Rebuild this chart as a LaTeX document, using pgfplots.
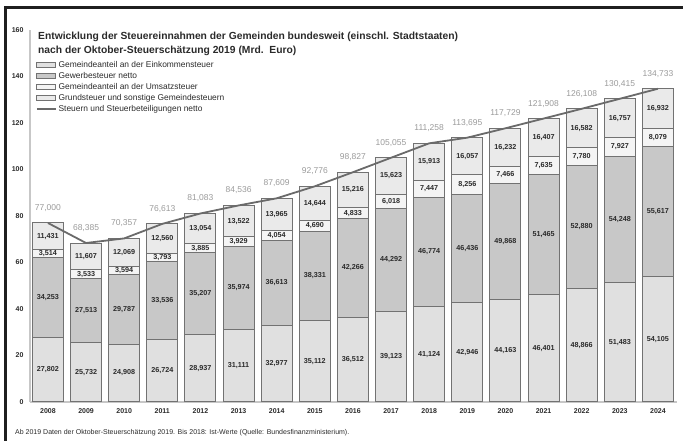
\documentclass[border=0pt]{standalone}
\usepackage{pgfplots}
\usepackage{pgfplotstable}
\pgfplotsset{compat=1.18}
\usepackage{fontspec}
\setmainfont{Liberation Sans}

\definecolor{cEst}{HTML}{E0E0E0}
\definecolor{cGew}{HTML}{C8C8C8}
\definecolor{cUst}{HTML}{F4F4F4}
\definecolor{cGrund}{HTML}{EAEAEA}
\definecolor{cEdge}{HTML}{727272}
\definecolor{cLine}{HTML}{6A6A6A}
\definecolor{cTotal}{HTML}{9A9A9A}
\definecolor{cText}{HTML}{2A2A2A}

\pgfkeys{/pgf/number format/assume math mode=true}

% Mrd. Euro, Gemeinden bundesweit
\pgfplotstableread{
x year est gew ust grund total
0  2008 27.802 34.253 3.514 11.431 77.000
1  2009 25.732 27.513 3.533 11.607 68.385
2  2010 24.908 29.787 3.594 12.069 70.357
3  2011 26.724 33.536 3.793 12.560 76.613
4  2012 28.937 35.207 3.885 13.054 81.083
5  2013 31.111 35.974 3.929 13.522 84.536
6  2014 32.977 36.613 4.054 13.965 87.609
7  2015 35.112 38.331 4.690 14.644 92.776
8  2016 36.512 42.266 4.833 15.216 98.827
9  2017 39.123 44.292 6.018 15.623 105.055
10 2018 41.124 46.774 7.447 15.913 111.258
11 2019 42.946 46.436 8.256 16.057 113.695
12 2020 44.163 49.868 7.466 16.232 117.729
13 2021 46.401 51.465 7.635 16.407 121.908
14 2022 48.866 52.880 7.780 16.582 126.108
15 2023 51.483 54.248 7.927 16.757 130.415
16 2024 54.105 55.617 8.079 16.932 134.733
}\steuer

\pgfplotsset{
  steuerbox/.style={
    at={(30pt,39pt)}, anchor=south west,
    scale only axis, width=647pt, height=372pt,
    xmin=-0.47, xmax=16.5, ymin=0, ymax=160,
    clip=false,
  },
  barlegend/.style={legend image code/.code={\draw[##1] (0pt,-2.6pt) rectangle (19pt,2.6pt);}},
  linelegend/.style={legend image code/.code={\draw[##1] (0pt,0pt) -- (19pt,0pt);}},
  seglabel/.style={draw=none, no marks, nodes near coords, point meta=explicit,
    nodes near coords style={anchor=center, font=\bfseries\fontsize{7.2}{8}\selectfont, text=cText,
      /pgf/number format/.cd, fixed, fixed zerofill, precision=3, use comma}},
}

\begin{document}
\begin{tikzpicture}[x=1pt,y=1pt]
\useasboundingbox (0,0) rectangle (683,441);

\begin{axis}[
    steuerbox,
    ybar stacked,
    bar width=31pt,
    axis x line*=bottom,
    axis y line*=left,
    axis line style={draw=black!22, line width=1.3pt},
    major tick length=0pt,
    ytick={0,20,...,160},
    xtick={0,...,16},
    xticklabels={2008,2009,2010,2011,2012,2013,2014,2015,2016,2017,2018,2019,2020,2021,2022,2023,2024},
    yticklabel style={font=\bfseries\fontsize{7}{8}\selectfont, text=cText, xshift=-3pt},
    xticklabel style={font=\bfseries\fontsize{7}{8}\selectfont, text=cText, yshift=-3pt},
    legend cell align=left,
    legend style={at={(rel axis cs:0.009,0.922)}, anchor=north west, draw=none, fill=none,
      font=\fontsize{8.4}{9}\selectfont, text=cText, row sep=-0.6pt, inner sep=0pt},
]
\addplot[fill=cEst, draw=cEdge, line width=1pt, barlegend] table[x=x, y=est] {\steuer};
\addlegendentry{Gemeindeanteil an der Einkommensteuer}
\addplot[fill=cGew, draw=cEdge, line width=1pt, barlegend] table[x=x, y=gew] {\steuer};
\addlegendentry{Gewerbesteuer netto}
\addplot[fill=cUst, draw=cEdge, line width=1pt, barlegend] table[x=x, y=ust] {\steuer};
\addlegendentry{Gemeindeanteil an der Umsatzsteuer}
\addplot[fill=cGrund, draw=cEdge, line width=1pt, barlegend] table[x=x, y=grund] {\steuer};
\addlegendentry{Grundsteuer und sonstige Gemeindesteuern}
\addlegendimage{linelegend, color=cLine, line width=1.6pt}
\addlegendentry{Steuern und Steuerbeteiligungen netto}
\end{axis}

\begin{axis}[steuerbox, hide axis]
\addplot[seglabel] table[x=x, y expr=\thisrow{est}/2, meta=est] {\steuer};
\addplot[seglabel] table[x=x, y expr=\thisrow{est}+\thisrow{gew}/2, meta=gew] {\steuer};
\addplot[seglabel] table[x=x, y expr=\thisrow{est}+\thisrow{gew}+\thisrow{ust}/2, meta=ust] {\steuer};
\addplot[seglabel] table[x=x, y expr=\thisrow{est}+\thisrow{gew}+\thisrow{ust}+\thisrow{grund}/2, meta=grund] {\steuer};
\addplot[color=cLine, line width=1.8pt, no marks] table[x=x, y=total] {\steuer};
\addplot[draw=none, no marks, nodes near coords, point meta=explicit,
  nodes near coords style={anchor=base, yshift=12.5pt, text=cTotal, font=\fontsize{8.5}{9}\selectfont,
    /pgf/number format/.cd, fixed, fixed zerofill, precision=3, use comma}]
  table[x=x, y=total, meta=total] {\steuer};
\end{axis}

\node[anchor=base west, inner sep=0, font=\bfseries\fontsize{10.3}{11}\selectfont, text=cText]
  at (38,401) {Entwicklung der Steuereinnahmen der Gemeinden bundesweit (einschl. Stadtstaaten)};
\node[anchor=base west, inner sep=0, font=\bfseries\fontsize{10.3}{11}\selectfont, text=cText]
  at (38,387.5) {nach der Oktober-Steuerschätzung 2019 (Mrd.\ \ Euro)};
\node[anchor=base west, inner sep=0, font=\fontsize{7}{8}\selectfont, text=cText]
  at (15,6) {Ab 2019 Daten der Oktober-Steuerschätzung 2019. Bis 2018: Ist-Werte (Quelle: Bundesfinanzministerium).};

\draw[line width=2.7pt, black!88, line join=miter] (5.3,0) -- (5.3,433.7) -- (683,433.7);
\end{tikzpicture}
\end{document}
